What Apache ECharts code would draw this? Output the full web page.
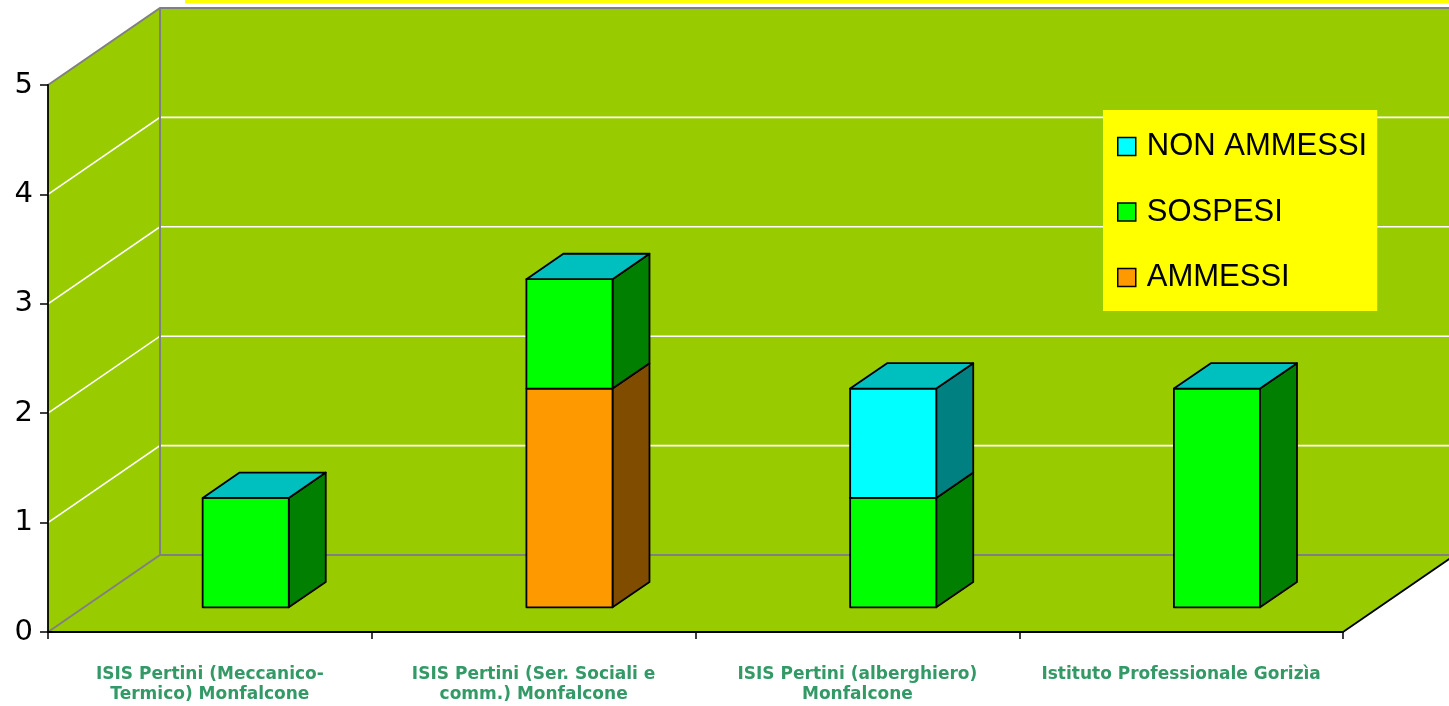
<!DOCTYPE html>
<html><head><meta charset="utf-8">
<script src="https://cdn.jsdelivr.net/npm/echarts@6/dist/echarts.min.js"></script>
<style>html,body{margin:0;padding:0;background:#fff}#c{width:1449px;height:706px}</style>
</head><body><div id="c"></div>
<script>
const categories = ['ISIS Pertini (Meccanico-\nTermico) Monfalcone', 'ISIS Pertini (Ser. Sociali e\ncomm.) Monfalcone', 'ISIS Pertini (alberghiero)\nMonfalcone', 'Istituto Professionale Gorizìa'];
const ammessi = [0, 2, 0, 0];
const sospesi = [1, 1, 1, 2];
const nonAmmessi = [0, 0, 1, 0];
const yTicks = [0, 1, 2, 3, 4, 5];

const DX = 112, DY = -77;
const FRONT = 0.32, DEPTH = 0.33, BARW = 0.266;
const WALL = '#99CC00';

const seriesDefs = [
  {name: 'AMMESSI', values: ammessi, front: '#FF9900', side: '#7F4C00'},
  {name: 'SOSPESI', values: sospesi, front: '#00FF00', side: '#007F00'},
  {name: 'NON AMMESSI', values: nonAmmessi, front: '#00FFFF', side: '#008080'}
];
// stacking
const bases = categories.map(() => 0);
const topIdx = categories.map((_, i) => { let t = -1; seriesDefs.forEach((s, k) => { if (s.values[i]) t = k; }); return t; });
seriesDefs.forEach((s, k) => {
  s.data = s.values.map((v, i) => { const d = [i, bases[i], v, topIdx[i] === k ? 1 : 0]; bases[i] += v; return d; });
});

function wallsRender(params, api) {
  const cs = params.coordSys;
  const x0 = cs.x, x1 = cs.x + cs.width, y0 = cs.y, yb = cs.y + cs.height;
  const ch = [];
  const fill = {fill: WALL, stroke: null};
  ch.push({type: 'polygon', shape: {points: [[x0 + DX, y0 + DY], [x1 + DX + 20, y0 + DY], [x1 + DX + 20, yb + DY], [x0 + DX, yb + DY]]}, style: fill});
  ch.push({type: 'polygon', shape: {points: [[x0, y0], [x0 + DX, y0 + DY], [x0 + DX, yb + DY], [x0, yb]]}, style: fill});
  ch.push({type: 'polygon', shape: {points: [[x0, yb], [x1, yb], [x1 + DX, yb + DY], [x0 + DX, yb + DY]]}, style: fill});
  yTicks.forEach(v => {
    if (v === 0 || v === yTicks[yTicks.length - 1]) return;
    const y = api.coord([0, v])[1];
    ch.push({type: 'polyline', shape: {points: [[x0, y], [x0 + DX, y + DY], [x1 + DX + 20, y + DY]]}, style: {stroke: '#FFFFFF', lineWidth: 1.6, fill: null}});
  });
  const gray = {stroke: '#808080', lineWidth: 2, fill: null};
  ch.push({type: 'polyline', shape: {points: [[x0, y0], [x0 + DX, y0 + DY], [x1 + DX + 20, y0 + DY]]}, style: gray});
  ch.push({type: 'polyline', shape: {points: [[x0, yb], [x0 + DX, yb + DY], [x1 + DX + 20, yb + DY]]}, style: gray});
  ch.push({type: 'line', shape: {x1: x0 + DX, y1: y0 + DY, x2: x0 + DX, y2: yb + DY}, style: gray});
  ch.push({type: 'line', shape: {x1: x1, y1: yb, x2: x1 + DX, y2: yb + DY}, style: {stroke: '#000', lineWidth: 1.8}});
  // yellow strip (title box edge)
  ch.push({type: 'rect', shape: {x: 185, y: 0, width: 1300, height: 3.5}, style: {fill: '#FFFF00'}});
  return {type: 'group', children: ch};
}

function makeBarRender(def) {
  return function (params, api) {
    const cat = api.value(0), base = api.value(1), val = api.value(2), isTop = api.value(3);
    if (!val) return null;
    const pB = api.coord([cat, base]);
    const pT = api.coord([cat, base + val]);
    const band = api.size([1, 0])[0];
    const w = band * BARW;
    const fdx = DX * FRONT, fdy = DY * FRONT, bdx = DX * DEPTH, bdy = DY * DEPTH;
    const xl = pB[0] - w / 2 + fdx, xr = xl + w;
    const yT = pT[1] + fdy, yB = pB[1] + fdy;
    const st = {stroke: '#000', lineWidth: 1.8, lineJoin: 'round'};
    const ch = [];
    ch.push({type: 'polygon', shape: {points: [[xr, yT], [xr + bdx, yT + bdy], [xr + bdx, yB + bdy], [xr, yB]]}, style: Object.assign({fill: def.side}, st)});
    ch.push({type: 'rect', shape: {x: xl, y: yT, width: w, height: yB - yT}, style: Object.assign({fill: def.front}, st)});
    if (isTop) {
      ch.push({type: 'polygon', shape: {points: [[xl, yT], [xl + bdx, yT + bdy], [xr + bdx, yT + bdy], [xr, yT]]}, style: Object.assign({fill: '#00BFBF'}, st)});
    }
    return {type: 'group', children: ch};
  };
}

const chart = echarts.init(document.getElementById('c'), null, {renderer: 'canvas'});
const series = [{
  type: 'custom', name: '_walls', data: [[0, 0]], renderItem: wallsRender, z: 1, silent: true,
  encode: {x: 0, y: 1}, clip: false
}];
seriesDefs.forEach(def => {
  series.push({
    type: 'custom', name: def.name, data: def.data, renderItem: makeBarRender(def), z: 3, clip: false,
    encode: {x: 0, y: 2},
    itemStyle: {color: def.front, borderColor: '#000', borderWidth: 1.5}
  });
});

chart.setOption({
  animation: false,
  backgroundColor: '#FFFFFF',
  grid: {left: 48, right: 106, top: 85, bottom: 74, containLabel: false},
  legend: {
    data: ['NON AMMESSI', 'SOSPESI', 'AMMESSI'],
    orient: 'vertical', left: 1103, top: 110,
    backgroundColor: '#FFFF00',
    padding: [21, 10, 18, 14],
    itemWidth: 18, itemHeight: 18, itemGap: 34.5,
    icon: 'rect',
    itemStyle: {borderColor: '#000', borderWidth: 1.5},
    textStyle: {fontFamily: 'Liberation Sans, Arial', fontSize: 31, color: '#000', padding: [0, 0, 0, 6]}
  },
  xAxis: {
    type: 'category', data: categories, boundaryGap: true, z: 10,
    axisLine: {lineStyle: {color: '#000', width: 1.8}},
    axisTick: {show: true, length: 7, lineStyle: {color: '#000', width: 1.5}},
    axisLabel: {interval: 0, margin: 33, color: '#339966', fontWeight: 'bold', fontSize: 17, lineHeight: 20, fontFamily: 'DejaVu Sans'},
    splitLine: {show: false}
  },
  yAxis: {
    type: 'value', min: 0, max: 5, interval: 1, z: 10,
    axisLine: {show: true, lineStyle: {color: '#000', width: 1.8}},
    axisTick: {show: true, length: 8, lineStyle: {color: '#000', width: 1.5}},
    axisLabel: {margin: 15, color: '#000', fontSize: 29, fontFamily: 'DejaVu Sans', padding: [10, 0, 0, 0]},
    splitLine: {show: false}
  },
  series: series
});
</script></body></html>
